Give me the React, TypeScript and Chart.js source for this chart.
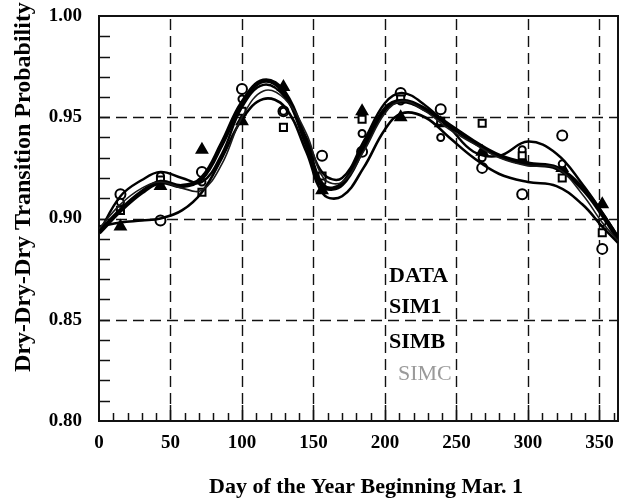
import React, { useEffect, useRef } from "react";
import { Chart, registerables } from "chart.js";

Chart.register(...registerables);

// Days at which the smoothed curves are sampled
const CURVE_DAYS = [0, 15, 30, 43, 58, 72, 86, 100, 115, 130, 145, 157, 170, 185, 200, 212, 228, 245, 262, 280, 300, 320, 338, 352, 363];

// Smoothed dry-dry-dry transition probability curves
const DATA_CURVE = [0.896, 0.898, 0.899, 0.900, 0.904, 0.913, 0.930, 0.949, 0.959, 0.955, 0.933, 0.912, 0.911, 0.925, 0.944, 0.952, 0.950, 0.940, 0.930, 0.922, 0.918, 0.916, 0.907, 0.896, 0.888];
const SIM1_CURVE = [0.893, 0.904, 0.913, 0.918, 0.916, 0.920, 0.937, 0.957, 0.968, 0.962, 0.937, 0.916, 0.917, 0.935, 0.954, 0.958, 0.954, 0.946, 0.938, 0.931, 0.927, 0.925, 0.915, 0.902, 0.890];
const SIMB_CURVE = [0.893, 0.911, 0.919, 0.923, 0.920, 0.918, 0.932, 0.955, 0.966, 0.960, 0.940, 0.922, 0.920, 0.938, 0.957, 0.962, 0.956, 0.945, 0.933, 0.931, 0.938, 0.932, 0.917, 0.903, 0.891];
const SIMC_CURVE = [0.895, 0.907, 0.915, 0.918, 0.915, 0.914, 0.927, 0.950, 0.963, 0.959, 0.942, 0.920, 0.918, 0.933, 0.952, 0.958, 0.953, 0.944, 0.937, 0.930, 0.926, 0.925, 0.912, 0.898, 0.889];

// Mid-period days of the 28-day estimates
const MARK_DAYS = [15, 43, 72, 100, 129, 156, 184, 211, 239, 268, 296, 324, 352];

// Period estimates
const DATA_POINTS = [0.912, 0.899, 0.923, 0.964, 0.953, 0.931, 0.933, 0.962, 0.954, 0.925, 0.912, 0.941, 0.885];
const SIM1_POINTS = [0.896, 0.916, 0.934, 0.948, 0.965, 0.914, 0.953, 0.950, 0.947, 0.933, 0.929, 0.925, 0.907];
const SIMB_POINTS = [0.904, 0.919, 0.913, 0.953, 0.945, 0.921, 0.949, 0.959, 0.948, 0.947, 0.931, 0.920, 0.893];
const SIMC_POINTS = [0.908, 0.921, 0.918, 0.959, 0.953, 0.918, 0.942, 0.958, 0.940, 0.930, 0.934, 0.927, 0.898];

const X_TICKS = [0, 50, 100, 150, 200, 250, 300, 350];
const Y_TICKS = [0.8, 0.85, 0.9, 0.95, 1.0];
const LEGEND_LABELS = ["DATA", "SIM1", "SIMB", "SIMC"];

const X_TITLE = "Day of the Year Beginning Mar. 1";
const Y_TITLE = "Dry-Dry-Dry Transition Probability";

const SERIF = '"Liberation Serif", "Times New Roman", serif';

const pairs = (xs: number[], ys: number[]) => xs.map((x, i) => ({ x, y: ys[i] }));

const framePlugin = {
  id: "frame",
  beforeDatasetsDraw(chart: any) {
    const { ctx, chartArea: a, scales } = chart;
    const x = scales.x;
    const y = scales.y;
    ctx.save();
    ctx.strokeStyle = "#111";

    // dashed grid at the labelled values
    ctx.lineWidth = 1.4;
    ctx.setLineDash([11, 6]);
    X_TICKS.slice(1).forEach((v) => {
      const px = Math.round(x.getPixelForValue(v)) + 0.5;
      ctx.beginPath();
      ctx.moveTo(px, a.bottom);
      ctx.lineTo(px, a.top);
      ctx.stroke();
    });
    Y_TICKS.slice(1, -1).forEach((v) => {
      const py = Math.round(y.getPixelForValue(v)) + 0.5;
      ctx.beginPath();
      ctx.moveTo(a.left, py);
      ctx.lineTo(a.right, py);
      ctx.stroke();
    });
    ctx.setLineDash([]);

    // inner minor ticks
    ctx.lineWidth = 1.5;
    for (let d = 10; d < x.max; d += 10) {
      const px = Math.round(x.getPixelForValue(d)) + 0.5;
      const len = d % 50 === 0 ? 16 : 8;
      ctx.beginPath();
      ctx.moveTo(px, a.bottom);
      ctx.lineTo(px, a.bottom - len);
      ctx.stroke();
    }
    for (let i = 1; i < 20; i++) {
      const py = Math.round(y.getPixelForValue(0.8 + i * 0.01)) + 0.5;
      ctx.beginPath();
      ctx.moveTo(a.left, py);
      ctx.lineTo(a.left + 11, py);
      ctx.stroke();
    }

    // plot frame
    ctx.lineWidth = 2;
    ctx.strokeRect(a.left, a.top, a.width, a.height);
    ctx.restore();
  },
  afterDraw(chart: any) {
    const { ctx } = chart;
    ctx.save();
    ctx.fillStyle = "#000";

    ctx.font = `bold 22px ${SERIF}`;
    ctx.textAlign = "center";
    ctx.textBaseline = "middle";
    ctx.fillText(X_TITLE, 366, 487);

    ctx.save();
    ctx.translate(24, 187);
    ctx.rotate(-Math.PI / 2);
    ctx.font = `bold 24px ${SERIF}`;
    ctx.fillText(Y_TITLE, 0, 0);
    ctx.restore();

    // series names
    ctx.textAlign = "left";
    ctx.textBaseline = "alphabetic";
    const baselines = [282, 313, 348, 380];
    LEGEND_LABELS.forEach((label, i) => {
      const light = i === 3;
      ctx.font = `${light ? "normal" : "bold"} 22px ${SERIF}`;
      ctx.fillStyle = light ? "#9a9a9a" : "#000";
      ctx.fillText(label, light ? 398 : 389, baselines[i]);
    });
    ctx.restore();
  },
};

export default function App() {
  const ref = useRef<HTMLCanvasElement | null>(null);

  useEffect(() => {
    if (!ref.current) return;
    const curve = (label: string, ys: number[], width: number, color: string) => ({
      type: "line" as const,
      label,
      data: pairs(CURVE_DAYS, ys),
      borderColor: color,
      borderWidth: width,
      pointRadius: 0,
      tension: 0.4,
      fill: false,
    });
    const marks = (label: string, ys: number[], style: string, radius: number, filled: boolean) => ({
      type: "line" as const,
      label,
      data: pairs(MARK_DAYS, ys),
      showLine: false,
      pointStyle: style,
      pointRadius: radius,
      pointBorderWidth: 2,
      pointBorderColor: "#000",
      pointBackgroundColor: filled ? "#000" : "#fff",
    });

    const chart = new Chart(ref.current, {
      type: "line",
      data: {
        datasets: [
          curve("SIMC fit", SIMC_CURVE, 1.6, "#1a1a1a"),
          curve("SIMB fit", SIMB_CURVE, 2.4, "#000"),
          curve("DATA fit", DATA_CURVE, 2.6, "#000"),
          curve("SIM1 fit", SIM1_CURVE, 4.5, "#000"),
          marks("SIMB", SIMB_POINTS, "rect", 5, false),
          marks("SIMC", SIMC_POINTS, "circle", 3.5, false),
          marks("DATA", DATA_POINTS, "circle", 5, false),
          marks("SIM1", SIM1_POINTS, "triangle", 6, true),
        ],
      },
      options: {
        responsive: false,
        animation: false,
        devicePixelRatio: 1,
        layout: { padding: { top: 16, right: 3, left: 0, bottom: 0 } },
        plugins: { legend: { display: false }, tooltip: { enabled: false } },
        scales: {
          x: {
            type: "linear",
            min: 0,
            max: 363,
            grid: { display: false, drawTicks: false },
            border: { display: false },
            afterBuildTicks: (s: any) => {
              s.ticks = X_TICKS.map((v) => ({ value: v }));
            },
            afterFit: (s: any) => {
              s.height = 78;
              s.paddingLeft = 0;
              s.paddingRight = 0;
              s.paddingTop = 0;
              s.paddingBottom = 0;
            },
            ticks: {
              padding: 11,
              color: "#000",
              font: { family: SERIF, size: 19, weight: "bold" },
              maxRotation: 0,
              callback: (v: any) => String(v),
            },
          },
          y: {
            type: "linear",
            min: 0.8,
            max: 1.0,
            grid: { display: false, drawTicks: false },
            border: { display: false },
            afterBuildTicks: (s: any) => {
              s.ticks = Y_TICKS.map((v) => ({ value: v }));
            },
            afterFit: (s: any) => {
              s.width = 99;
              s.paddingLeft = 0;
              s.paddingRight = 0;
              s.paddingTop = 0;
              s.paddingBottom = 0;
            },
            ticks: {
              padding: 17,
              color: "#000",
              font: { family: SERIF, size: 19, weight: "bold" },
              callback: (v: any) => Number(v).toFixed(2),
            },
          },
        },
      },
      plugins: [framePlugin],
    });
    return () => chart.destroy();
  }, []);

  return (
    <div style={{ position: "absolute", left: 0, top: 0, width: 626, height: 499, background: "#fff" }}>
      <canvas ref={ref} width={626} height={499} style={{ display: "block", width: 626, height: 499 }} />
    </div>
  );
}
